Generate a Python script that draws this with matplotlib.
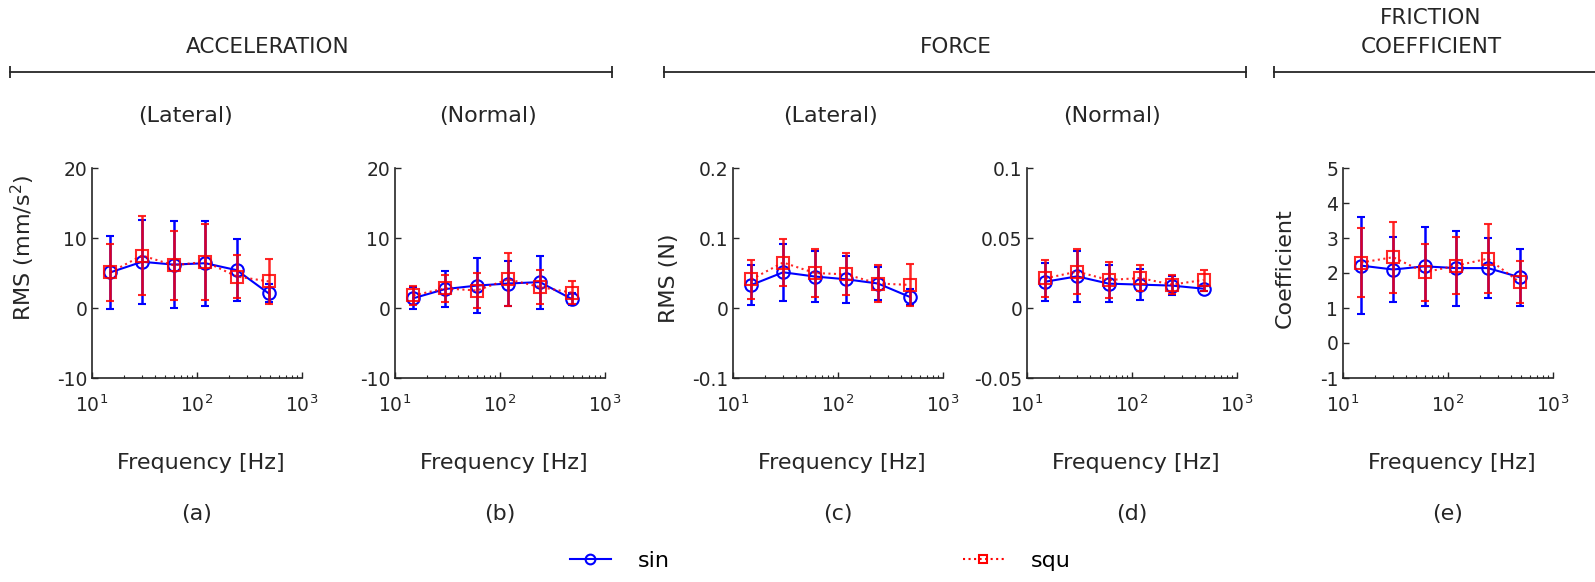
import matplotlib
matplotlib.use("Agg")
import matplotlib.pyplot as plt
from matplotlib.lines import Line2D
import numpy as np

# excitation frequencies (Hz)
freq = [15, 30, 60, 120, 240, 480]

# (a) lateral acceleration, mm/s^2
acc_lat_sin = [5.1, 6.6, 6.2, 6.4, 5.4, 2.1]
acc_lat_sin_err = [5.2, 6.0, 6.2, 6.1, 4.4, 1.3]
acc_lat_squ = [5.1, 7.5, 6.1, 6.6, 4.5, 3.8]
acc_lat_squ_err = [4.1, 5.6, 4.9, 5.4, 3.1, 3.2]

# (b) normal acceleration, mm/s^2
acc_nor_sin = [1.4, 2.7, 3.2, 3.5, 3.7, 1.3]
acc_nor_sin_err = [1.6, 2.6, 3.9, 3.2, 3.8, 0.9]
acc_nor_squ = [1.8, 2.8, 2.5, 4.1, 3.0, 2.2]
acc_nor_squ_err = [1.4, 1.9, 2.5, 3.8, 2.4, 1.6]

# (c) lateral force, N
frc_lat_sin = [0.033, 0.051, 0.045, 0.041, 0.035, 0.016]
frc_lat_sin_err = [0.029, 0.041, 0.036, 0.034, 0.024, 0.011]
frc_lat_squ = [0.041, 0.065, 0.050, 0.048, 0.035, 0.033]
frc_lat_squ_err = [0.028, 0.034, 0.034, 0.030, 0.026, 0.030]

# (d) normal force, N
frc_nor_sin = [0.0188, 0.0226, 0.0174, 0.0167, 0.0160, 0.0138]
frc_nor_sin_err = [0.0136, 0.018, 0.013, 0.011, 0.007, 0.002]
frc_nor_squ = [0.0212, 0.026, 0.020, 0.0214, 0.0167, 0.020]
frc_nor_squ_err = [0.0133, 0.016, 0.013, 0.0095, 0.0068, 0.0075]

# (e) friction coefficient
coef_sin = [2.21, 2.10, 2.19, 2.14, 2.14, 1.88]
coef_sin_err = [1.38, 0.93, 1.12, 1.07, 0.85, 0.82]
coef_squ = [2.30, 2.45, 2.02, 2.21, 2.41, 1.74]
coef_squ_err = [0.99, 1.01, 0.82, 0.82, 0.98, 0.60]

panels = [
    (acc_lat_sin, acc_lat_sin_err, acc_lat_squ, acc_lat_squ_err, (-10, 20), [-10, 0, 10, 20], ['-10', '0', '10', '20']),
    (acc_nor_sin, acc_nor_sin_err, acc_nor_squ, acc_nor_squ_err, (-10, 20), [-10, 0, 10, 20], ['-10', '0', '10', '20']),
    (frc_lat_sin, frc_lat_sin_err, frc_lat_squ, frc_lat_squ_err, (-0.1, 0.2), [-0.1, 0, 0.1, 0.2], ['-0.1', '0', '0.1', '0.2']),
    (frc_nor_sin, frc_nor_sin_err, frc_nor_squ, frc_nor_squ_err, (-0.05, 0.1), [-0.05, 0, 0.05, 0.1], ['-0.05', '0', '0.05', '0.1']),
    (coef_sin, coef_sin_err, coef_squ, coef_squ_err, (-1, 5), [-1, 0, 1, 2, 3, 4, 5], ['-1', '0', '1', '2', '3', '4', '5']),
]
letters = ['(a)', '(b)', '(c)', '(d)', '(e)']

plt.rcParams['font.family'] = ['DejaVu Sans']
W, H = 1595, 582
fig = plt.figure(figsize=(W / 100, H / 100), dpi=100)

lefts = [92, 395, 733, 1027, 1343]
ax_w, ax_top, ax_bot = 210, 168, 378
ink = '#262626'
lab_fs = 16

axes = []
for i, (s, se, q, qe, ylim, yt, ytl) in enumerate(panels):
    ax = fig.add_axes([lefts[i] / W, (H - ax_bot) / H, ax_w / W, (ax_bot - ax_top) / H])
    ax.errorbar(freq, s, yerr=se, color='blue', marker='o', ms=9, mfc='none',
                mew=1.5, lw=1.5, ls='-', capsize=3, elinewidth=1.8, label='sin', zorder=2)
    ax.errorbar(freq, q, yerr=qe, color='red', marker='s', ms=8, mfc='none',
                mew=1.5, lw=1.5, ls=':', capsize=3, elinewidth=1.8, alpha=0.85,
                label='squ', zorder=3)
    ax.set_xscale('log')
    ax.set_xlim(10, 1000)
    ax.set_ylim(*ylim)
    ax.set_yticks(yt)
    ax.set_yticklabels(ytl)
    ax.set_xticks([10, 100, 1000])
    ax.set_xticklabels(['$10^1$', '$10^2$', '$10^3$'])
    for sp in ['top', 'right']:
        ax.spines[sp].set_visible(False)
    for sp in ['left', 'bottom']:
        ax.spines[sp].set_color(ink)
        ax.spines[sp].set_linewidth(1.2)
    ax.tick_params(direction='in', labelsize=13.5, colors=ink, length=4, width=1)
    ax.tick_params(axis='x', pad=12)
    ax.tick_params(which='minor', direction='in', length=2.5, width=0.8, colors=ink)
    ax.set_xlabel('Frequency [Hz]', fontsize=lab_fs, color=ink)
    ax.xaxis.set_label_coords(0.52, -0.355)
    cx = (lefts[i] + ax_w / 2) / W
    fig.text(cx, 1 - 514 / H, letters[i], ha='center', va='center', fontsize=lab_fs, color=ink)
    axes.append(ax)

axes[0].set_ylabel('RMS (mm/s$^2$)', fontsize=lab_fs, color=ink)
axes[0].yaxis.set_label_coords(-0.33, 0.62)
axes[2].set_ylabel('RMS (N)', fontsize=lab_fs, color=ink)
axes[2].yaxis.set_label_coords(-0.305, 0.476)
axes[4].set_ylabel('Coefficient', fontsize=lab_fs, color=ink)
axes[4].yaxis.set_label_coords(-0.276, 0.524)
for a in (axes[0], axes[2], axes[4]):
    a.yaxis.label.set_va('center')

# sub titles
for x, t in [(186, '(Lateral)'), (488, '(Normal)'), (830, '(Lateral)'), (1112, '(Normal)')]:
    fig.text(x / W, 1 - 116 / H, t, ha='center', va='center', fontsize=lab_fs, color=ink)

# group headers with bracket lines
groups = [(268, ['ACCELERATION'], 10, 612), (956, ['FORCE'], 664, 1246),
          (1431, ['FRICTION', 'COEFFICIENT'], 1274, 1600)]
for cx, lines, x0, x1 in groups:
    if len(lines) == 1:
        fig.text(cx / W, 1 - 47 / H, lines[0], ha='center', va='center', fontsize=15.5, color=ink)
    else:
        fig.text(cx / W, 1 - 18 / H, lines[0], ha='center', va='center', fontsize=15.5, color=ink)
        fig.text(cx / W, 1 - 47 / H, lines[1], ha='center', va='center', fontsize=15.5, color=ink)
    fig.add_artist(Line2D([x0 / W, x1 / W], [1 - 72 / H, 1 - 72 / H], color=ink, lw=1.3,
                          marker='|', ms=9, mew=1.3, transform=fig.transFigure))

# legend
h_sin = Line2D([], [], color='blue', marker='o', ms=7, mfc='none', mew=1.5, lw=1.5, ls='-')
h_squ = Line2D([], [], color='red', marker='s', ms=6, mfc='none', mew=1.5, lw=1.5, ls=':')
fig.legend([h_sin, h_squ], ['sin', 'squ'], ncol=2, loc='center',
           bbox_to_anchor=(820 / W, 1 - 561 / H), frameon=False, fontsize=lab_fs,
           handlelength=1.85, columnspacing=13.2, handletextpad=1.2)

fig.savefig('out.png', dpi=100)
